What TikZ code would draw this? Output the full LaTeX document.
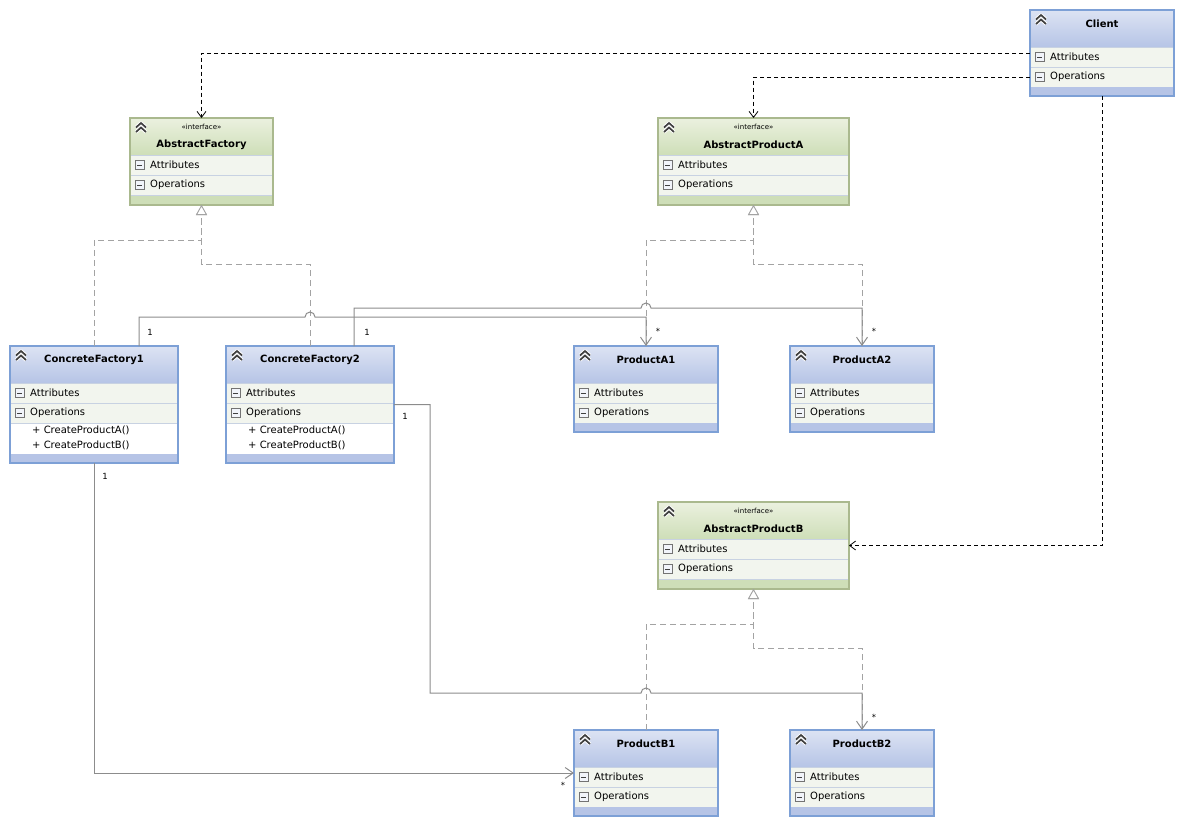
\documentclass[tikz,border=0pt]{standalone}
\usepackage{fontspec}
\setmainfont{DejaVu Sans}
\usetikzlibrary{arrows.meta}

% colours of the class boxes
\definecolor{clsTop}{HTML}{DCE3F3}
\definecolor{clsBot}{HTML}{B6C4E6}
\definecolor{clsBorder}{HTML}{7DA0D6}
\definecolor{ifcTop}{HTML}{EBF1DF}
\definecolor{ifcBot}{HTML}{CEDEB8}
\definecolor{ifcBorder}{HTML}{AAB98E}
\definecolor{rowFill}{HTML}{F2F5EE}
\definecolor{rowLine}{HTML}{C8D2E2}
\definecolor{lineGray}{HTML}{8C8C8C}

% body of one class: name, x, y, width, height, colour scheme
\newcommand{\classbody}[6]{%
  \node[classbox, minimum width=#4pt, minimum height=#5pt, anchor=north west] (#1) at (#2,#3) {};
  \shade[top color=#6Top, bottom color=#6Bot] (#1.north west) rectangle ([yshift=-37pt]#1.north east);
  \fill[rowFill] ([yshift=-37pt]#1.north west) rectangle ([yshift=-77pt]#1.north east);
  \draw[rowLine] ([yshift=-37pt]#1.north west) -- ([yshift=-37pt]#1.north east);
  \draw[rowLine] ([yshift=-57pt]#1.north west) -- ([yshift=-57pt]#1.north east);
  \draw[rowLine] ([yshift=-77pt]#1.north west) -- ([yshift=-77pt]#1.north east);
  \fill[#6Bot] ([yshift=9pt]#1.south west) rectangle (#1.south east);
  \draw[#6Border, line width=1.1pt] (#1.north west) rectangle (#1.south east);
  % collapse icon
  \foreach \dy in {5,9.5}{
    \draw[white, line width=3.6pt, line join=round]
      ([shift={(6pt,-\dy pt-4.5pt)}]#1.north west) -- ++(5pt,4.5pt) -- ++(5pt,-4.5pt);
  }
  \foreach \dy in {5,9.5}{
    \draw[black!75, line width=1.7pt]
      ([shift={(6pt,-\dy pt-4.5pt)}]#1.north west) -- ++(5pt,4.5pt) -- ++(5pt,-4.5pt);
  }
  % compartments
  \foreach \dy/\txt in {47/Attributes, 67/Operations}{
    \draw[minusbox] ([shift={(5pt,-\dy pt+4.5pt)}]#1.north west) rectangle ++(9pt,-9pt);
    \draw[black!75, line width=0.9pt] ([shift={(7pt,-\dy pt)}]#1.north west) -- ++(5pt,0);
    \node[rowtext] at ([shift={(20pt,-\dy pt)}]#1.north west) {\txt};
  }
}
% plain class: name, x, y, width, height, title
\newcommand{\umlclass}[6]{%
  \classbody{#1}{#2}{#3}{#4}{#5}{cls}
  \node[titletext] at ([yshift=-14pt]#1.north) {#6};
}
% interface: name, x, y, width, title
\newcommand{\umlinterface}[5]{%
  \classbody{#1}{#2}{#3}{#4}{87}{ifc}
  \node[stereotext] at ([yshift=-9pt]#1.north) {«interface»};
  \node[titletext] at ([yshift=-27pt]#1.north) {#5};
}

\begin{document}
\begin{tikzpicture}[x=1pt, y=-1pt,
					classbox/.style={rectangle,
					inner sep=0pt,
					outer sep=0pt,
					fill=white},
					titletext/.style={font=\fontsize{10pt}{12pt}\selectfont\bfseries,
					inner sep=0pt},
					stereotext/.style={font=\fontsize{7pt}{8pt}\selectfont,
					inner sep=0pt},
					rowtext/.style={font=\fontsize{10pt}{12pt}\selectfont,
					anchor=west, inner sep=0pt},
					methodtext/.style={font=\fontsize{10pt}{12pt}\selectfont,
					anchor=west, inner sep=0pt},
					minusbox/.style={draw=black!55, fill=white!60!clsTop, line width=0.7pt},
					mult/.style={font=\fontsize{8.5pt}{9pt}\selectfont, inner sep=0pt},
					dep/.style={black, dashed, dash pattern=on 4pt off 3pt, line width=0.8pt,
					-{Straight Barb[length=6pt, width=9pt]}},
					real/.style={lineGray!80, dash pattern=on 6pt off 4pt, line width=1pt,
					-{Triangle[open, length=10pt, width=11pt, fill=white, line width=0.8pt]}},
					assoc/.style={lineGray, line width=1pt,
					-{Straight Barb[length=8pt, width=11pt, line width=1pt]}}
					]

\useasboundingbox (0,0) rectangle (1183,825);

%classes
\umlclass{client}{1030}{10}{144}{86}{Client}
\umlinterface{af}{130}{118}{143}{AbstractFactory}
\umlinterface{apa}{658}{118}{191}{AbstractProductA}
\umlclass{cf1}{10}{346}{168}{117}{ConcreteFactory1}
\umlclass{cf2}{226}{346}{168}{117}{ConcreteFactory2}
\umlclass{pa1}{574}{346}{144}{86}{ProductA1}
\umlclass{pa2}{790}{346}{144}{86}{ProductA2}
\umlinterface{apb}{658}{502}{191}{AbstractProductB}
\umlclass{pb1}{574}{730}{144}{86}{ProductB1}
\umlclass{pb2}{790}{730}{144}{86}{ProductB2}

%operations of the factories
\node[methodtext] at ([shift={(22pt,-84pt)}]cf1.north west) {+ CreateProductA()};
\node[methodtext] at ([shift={(22pt,-99pt)}]cf1.north west) {+ CreateProductB()};
\node[methodtext] at ([shift={(22pt,-84pt)}]cf2.north west) {+ CreateProductA()};
\node[methodtext] at ([shift={(22pt,-99pt)}]cf2.north west) {+ CreateProductB()};

%realizations
\draw[real] (cf1.north) -- (cf1.north |- 0,240) -| (af.south);
\draw[real] (cf2.north) -- (cf2.north |- 0,264) -| (af.south);
\draw[real] (pa1.north) -- (pa1.north |- 0,240) -| (apa.south);
\draw[real] (pa2.north) -- (pa2.north |- 0,264) -| (apa.south);
\draw[real] (pb1.north) -- (pb1.north |- 0,624) -| (apb.south);
\draw[real] (pb2.north) -- (pb2.north |- 0,648) -| (apb.south);

%associations
\coordinate (hop1) at (cf2.north |- 0,317);
\coordinate (hop2) at (pa1.north |- 0,308);
\coordinate (hop3) at (pb1.north |- 0,693);
\coordinate (turnB) at (430,693);
\draw[assoc] ([xshift=129pt]cf1.north west) |- ([xshift=-5pt]hop1)
    arc[start angle=180, end angle=0, radius=5pt] -| (pa1.north);
\draw[assoc] ([xshift=128pt]cf2.north west) |- ([xshift=-5pt]hop2)
    arc[start angle=180, end angle=0, radius=5pt] -| (pa2.north);
\draw[assoc] (cf1.south) |- (pb1.west);
\draw[assoc] (cf2.east) -| (turnB) -- ([xshift=-5pt]hop3)
    arc[start angle=180, end angle=0, radius=5pt] -| (pb2.north);

%multiplicities
\node[mult] (m1) at (150,332) {1};
\node[mult] (m2) at (658,331) {*};
\node[mult] (m3) at (367,332) {1};
\node[mult] (m4) at (874,331) {*};
\node[mult] (m5) at (105,476) {1};
\node[mult] (m6) at (563,785) {*};
\node[mult] (m7) at (405,416) {1};
\node[mult] (m8) at (874,717) {*};

%client dependencies
\draw[dep] (client.west) -| (af.north);
\draw[dep] ([yshift=-24pt]client.west) -| (apa.north);
\draw[dep] (client.south) |- (apb.east);

\end{tikzpicture}
\end{document}
